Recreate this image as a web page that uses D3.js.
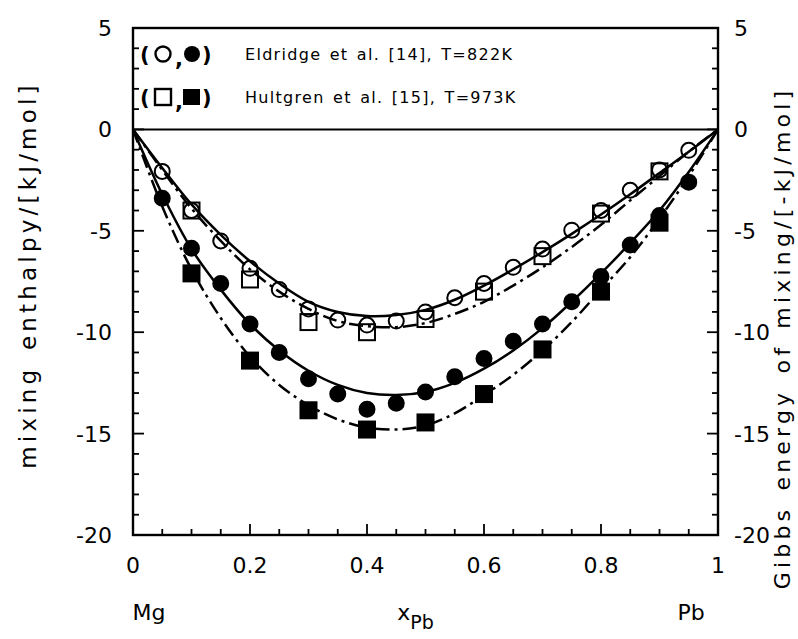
<!DOCTYPE html>
<html><head><meta charset="utf-8">
<script src="https://cdn.jsdelivr.net/npm/d3@7"></script>
<style>body{margin:0;background:#fff}svg{display:block}text{font-family:"DejaVu Sans",sans-serif;fill:#000}</style>
</head><body><svg id="c" width="798" height="639"></svg>
<script>
// Data (x = mole fraction Pb)
const xs05 = [0.05,0.1,0.15,0.2,0.25,0.3,0.35,0.4,0.45,0.5,0.55,0.6,0.65,0.7,0.75,0.8,0.85,0.9,0.95];
const eldridgeGibbs = [-2.07,-4.0,-5.5,-6.85,-7.9,-8.85,-9.4,-9.65,-9.45,-9.0,-8.3,-7.6,-6.8,-5.9,-4.97,-4.0,-3.0,-2.0,-1.03];
const eldridgeEnthalpy = [-3.4,-5.86,-7.6,-9.6,-11.0,-12.3,-13.05,-13.8,-13.5,-12.95,-12.2,-11.3,-10.45,-9.6,-8.5,-7.25,-5.7,-4.25,-2.6];
const xs10 = [0.1,0.2,0.3,0.4,0.5,0.6,0.7,0.8,0.9];
const hultgrenGibbs = [-4.0,-7.4,-9.5,-10.0,-9.35,-8.0,-6.25,-4.15,-2.07];
const hultgrenEnthalpy = [-7.1,-11.4,-13.85,-14.8,-14.45,-13.05,-10.85,-8.0,-4.6];
// Model curves
const curveX = [0,0.05,0.1,0.15,0.2,0.25,0.3,0.35,0.4,0.45,0.5,0.55,0.6,0.65,0.7,0.75,0.8,0.85,0.9,0.95,1];
const solidGibbs = [0,-1.9,-3.7,-5.2,-6.5,-7.6,-8.5,-9.0,-9.2,-9.15,-8.9,-8.4,-7.7,-6.9,-6.05,-5.15,-4.2,-3.2,-2.15,-1.1,0];
const dashGibbs = [0,-2.0,-3.9,-5.5,-6.9,-8.0,-8.85,-9.45,-9.7,-9.75,-9.55,-9.1,-8.5,-7.7,-6.8,-5.8,-4.7,-3.5,-2.3,-1.1,0];
const solidEnthalpy = [0,-3.2,-5.9,-7.9,-9.6,-10.9,-11.9,-12.6,-13.0,-13.1,-12.95,-12.5,-11.8,-10.9,-9.8,-8.5,-7.1,-5.6,-4.0,-2.1,0];
const dashEnthalpy = [0,-3.8,-6.9,-9.3,-11.2,-12.6,-13.6,-14.3,-14.7,-14.8,-14.6,-14.0,-13.1,-12.1,-10.9,-9.5,-7.9,-6.3,-4.4,-2.3,0];
const xTickLabels = ["0","0.2","0.4","0.6","0.8","1"];
const yTickValues = [5,0,-5,-10,-15,-20];
const legendTexts = ["Eldridge et al. [14], T=822K","Hultgren et al. [15], T=973K"];

const svg = d3.select("#c");
const L=133,R=718,T=28,B=535;
const x = d3.scaleLinear().domain([0,1]).range([L,R]);
const y = d3.scaleLinear().domain([-20,5]).range([B,T]);
const sw = 2.4;

svg.append("rect").attr("x",L).attr("y",T).attr("width",R-L).attr("height",B-T)
  .attr("fill","none").attr("stroke","#000").attr("stroke-width",sw);
svg.append("line").attr("x1",L).attr("x2",R).attr("y1",y(0)).attr("y2",y(0)).attr("stroke","#000").attr("stroke-width",2);

d3.range(-20,5.01,1).forEach(v=>{
  const len = (v%5===0)?11:6;
  svg.append("line").attr("x1",L).attr("x2",L+len).attr("y1",y(v)).attr("y2",y(v)).attr("stroke","#000").attr("stroke-width",1.8);
  svg.append("line").attr("x1",R).attr("x2",R-len).attr("y1",y(v)).attr("y2",y(v)).attr("stroke","#000").attr("stroke-width",1.8);
});
d3.range(0,1.001,0.05).forEach(v=>{
  const k=Math.round(v*20);
  const len = (k%4===0)?11:6;
  svg.append("line").attr("x1",x(v)).attr("x2",x(v)).attr("y1",B).attr("y2",B-len).attr("stroke","#000").attr("stroke-width",1.8);
});

const fs=22;
yTickValues.forEach(v=>{
  const lab = v<0?"-"+Math.abs(v):String(v);
  svg.append("text").attr("x",L-21).attr("y",y(v)).attr("dy","0.36em").attr("text-anchor","end").attr("font-size",fs).text(lab);
  svg.append("text").attr("x",R+16).attr("y",y(v)).attr("dy","0.36em").attr("text-anchor","start").attr("font-size",fs).text(lab);
});
xTickLabels.forEach(s=>{
  svg.append("text").attr("x",x(+s)).attr("y",B+38).attr("text-anchor","middle").attr("font-size",fs).text(s);
});
svg.append("text").attr("x",x(0)+16).attr("y",B+85).attr("text-anchor","middle").attr("font-size",fs).text("Mg");
svg.append("text").attr("x",x(1)-27).attr("y",B+85).attr("text-anchor","middle").attr("font-size",fs).text("Pb");
const xl = svg.append("text").attr("x",x(0.5)-10).attr("y",B+85).attr("text-anchor","middle").attr("font-size",fs);
xl.append("tspan").text("x");
xl.append("tspan").attr("dy",9).attr("font-size",19).text("Pb");

svg.append("text").attr("transform",`translate(36,275) rotate(-90)`).attr("text-anchor","middle")
  .attr("font-size",23).attr("letter-spacing",4.2).attr("word-spacing",4).text("mixing enthalpy/[kJ/mol]");
svg.append("text").attr("transform",`translate(790,338) rotate(-90)`).attr("text-anchor","middle")
  .attr("font-size",22).attr("letter-spacing",4.2).attr("word-spacing",4).text("Gibbs energy of mixing/[-kJ/mol]");

const line = d3.line().x((d,i)=>x(curveX[i])).y(d=>y(d)).curve(d3.curveCatmullRom.alpha(0.5));
function curve(arr,dash){
  svg.append("path").attr("d",line(arr)).attr("fill","none").attr("stroke","#000").attr("stroke-width",2.5)
    .attr("stroke-dasharray",dash?"14,5,3,5":null);
}
curve(solidGibbs,false);curve(dashGibbs,true);curve(solidEnthalpy,false);curve(dashEnthalpy,true);

const r=7.5, s=16;
function circles(xv,yv,filled){
  svg.append("g").selectAll("circle").data(yv).join("circle")
    .attr("cx",(d,i)=>x(xv[i])).attr("cy",d=>y(d)).attr("r",r)
    .attr("fill",filled?"#000":"#fff").attr("fill-opacity",filled?1:0).attr("stroke","#000").attr("stroke-width",2);
}
function squares(xv,yv,filled){
  svg.append("g").selectAll("rect").data(yv).join("rect")
    .attr("x",(d,i)=>x(xv[i])-s/2).attr("y",d=>y(d)-s/2).attr("width",s).attr("height",s)
    .attr("fill",filled?"#000":"#fff").attr("fill-opacity",filled?1:0).attr("stroke","#000").attr("stroke-width",2);
}
squares(xs10,hultgrenGibbs,false);
squares(xs10,hultgrenEnthalpy,true);
circles(xs05,eldridgeGibbs,false);
circles(xs05,eldridgeEnthalpy,true);

function legendRow(yy,shape,txt){
  svg.append("text").attr("x",140).attr("y",yy).attr("dy","0.36em").attr("font-size",21).attr("font-weight","bold").text("(");
  svg.append("text").attr("x",175).attr("y",yy+4).attr("dy","0.36em").attr("font-size",21).attr("font-weight","bold").text(",");
  svg.append("text").attr("x",202).attr("y",yy).attr("dy","0.36em").attr("font-size",21).attr("font-weight","bold").text(")");
  if(shape==="c"){
    svg.append("circle").attr("cx",163).attr("cy",yy).attr("r",7.5).attr("fill","none").attr("stroke","#000").attr("stroke-width",2.4);
    svg.append("circle").attr("cx",192).attr("cy",yy).attr("r",8).attr("fill","#000");
  } else {
    svg.append("rect").attr("x",155).attr("y",yy-8).attr("width",16).attr("height",16).attr("fill","none").attr("stroke","#000").attr("stroke-width",2.4);
    svg.append("rect").attr("x",183).attr("y",yy-8).attr("width",17).attr("height",16).attr("fill","#000");
  }
  svg.append("text").attr("x",245).attr("y",yy).attr("dy","0.36em").attr("font-size",16).attr("letter-spacing",1.3).attr("word-spacing",2).text(txt);
}
legendRow(54,"c",legendTexts[0]);
legendRow(97,"s",legendTexts[1]);
</script></body></html>
